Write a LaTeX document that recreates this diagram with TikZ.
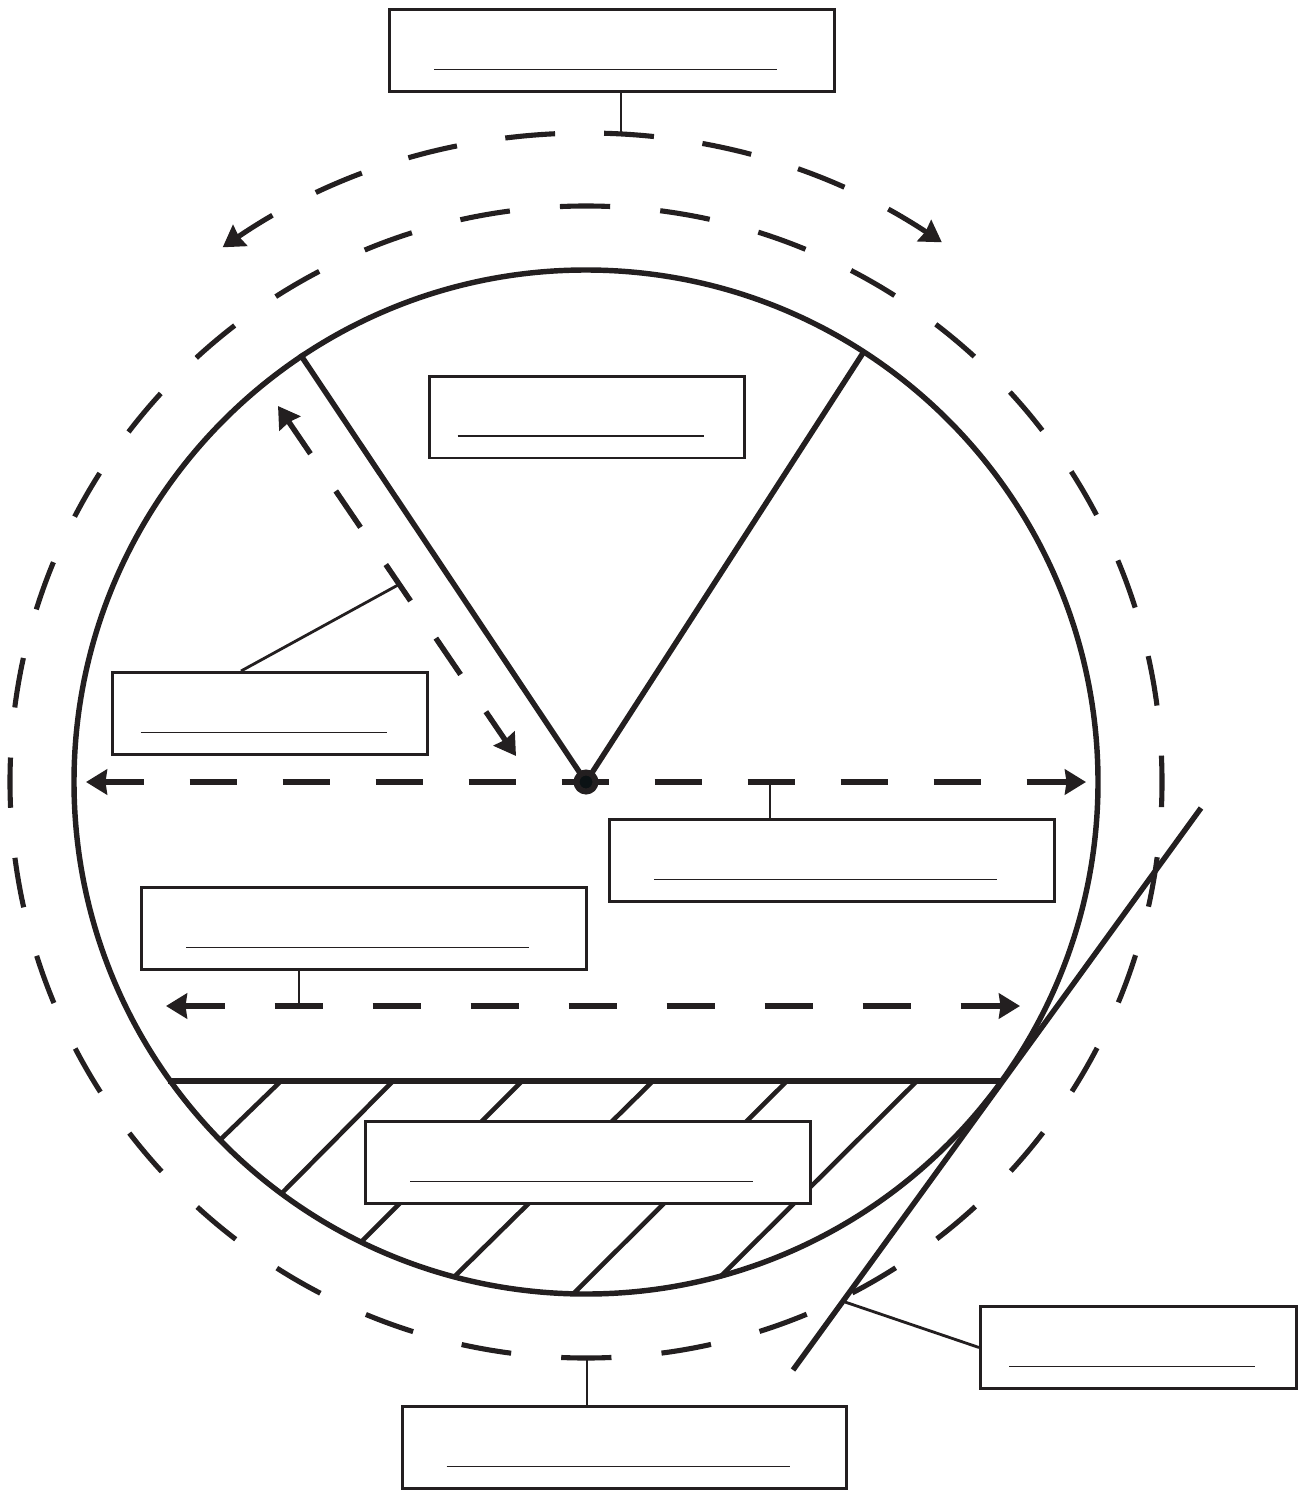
\documentclass[tikz,border=0pt]{standalone}
\usepackage{xcolor}
\usepackage{tikz}
\usetikzlibrary{arrows.meta, calc, positioning}
\definecolor{ink}{HTML}{231F20}
\definecolor{hubcore}{HTML}{0B1214}

\begin{document}
\begin{tikzpicture}[x=0.02cm, y=-0.02cm, every node/.style={inner sep=0pt}, >={Stealth[length=0.42cm, width=0.5cm, inset=0.03cm]},
  widebox/.style={draw=ink, fill=white, line width=1.7pt, minimum width=8.9cm, minimum height=1.64cm},
  shortbox/.style={draw=ink, fill=white, line width=1.7pt, minimum width=6.32cm, minimum height=1.64cm},
  rule/.style={draw=ink, line width=0.6pt},
  leader/.style={draw=ink, line width=1.6pt},
  heavy/.style={draw=ink, line width=3.1pt},
  ring/.style={draw=ink, line width=2.9pt, dash pattern=on 1.0053cm off 1.0053cm, dash phase=0.5027cm},
  dashline/.style={draw=ink, line width=3.1pt}]
  \useasboundingbox (0,0) rectangle (1306,1490);

  \coordinate (centre) at (586,782);
  \coordinate (chordL) at (168,1081);
  \coordinate (chordR) at (1003,1081);
  \coordinate (radiusL) at (300,354);
  \coordinate (radiusR) at (863,353);
  \coordinate (tangentA) at (793,1370);
  \coordinate (tangentB) at (1201,808);

  \draw [heavy] (centre) circle [radius=512];
  \draw [ring] (centre) circle [radius=576];

  \foreach \xa/\xb/\yb in {281/220/1140, 393/282/1193, 522/361/1242, 653/455/1276, 787/573/1294, 917/720/1277}
    \draw [draw=ink, line width=2.6pt] (\xa,1081) -- (\xb,\yb);
  \draw [heavy] (chordL) -- (chordR);
  \draw [heavy] (tangentA) -- (tangentB);
  \draw [heavy] (radiusL) -- (centre);
  \draw [heavy] (radiusR) -- (centre);

  \draw [dashline, <->, line width=2.9pt, dash pattern=on 1cm off 0.98cm, dash phase=0.18cm] ($(centre)+(-124.2:646.5)$) arc [start angle=-124.2, end angle=-56.6, radius=646.5];
  \coordinate (diagA) at (278,406);
  \coordinate (diagB) at (516,756);
  \draw [dashline, <->, dash pattern=on 0.88cm off 0.9cm, dash phase=0.09cm] (diagA) -- (diagB);
  \coordinate (midA) at (86,782);
  \coordinate (midB) at (1086,782);
  \draw [dashline, <->, dash pattern=on 0.94cm off 0.92cm, dash phase=0.15cm] (midA) -- (midB);
  \coordinate (lowA) at (166,1006);
  \coordinate (lowB) at (1020,1006);
  \draw [dashline, <->, dash pattern=on 0.97cm off 0.99cm, dash phase=0.15cm] (lowA) -- (lowB);

  \node (topbox) [widebox] at (612,50.5) {};
  \node (sectorbox) [shortbox] at (587,417) {};
  \node (leftbox) [shortbox] at (270,713.5) {};
  \node (rightbox) [widebox] at (832,860.5) {};
  \node (lowbox) [widebox] at (364,928.5) {};
  \node (hatchbox) [widebox] at (588,1162.5) {};
  \node (tangentbox) [shortbox] at (1138.5,1347.5) {};
  \node (bottombox) [widebox] at (624.5,1447.5) {};

  \foreach \boxname in {topbox, rightbox, lowbox, hatchbox, bottombox}
    \draw [rule] ($(\boxname.south west)+(46,-23.5)$) -- +(343,0);
  \foreach \boxname in {sectorbox, leftbox, tangentbox}
    \draw [rule] ($(\boxname.south west)+(30,-23.5)$) -- +(246,0);

  \coordinate (toptick) at (621,134);
  \coordinate (bottomtick) at (587,1359);
  \coordinate (righttick) at (770,782);
  \coordinate (lowtick) at (299,1006);
  \coordinate (diagtick) at (398,585);
  \coordinate (tangenttick) at (845,1302);
  \draw [leader] (toptick |- topbox.south) -- (toptick);
  \draw [leader] (bottomtick |- bottombox.north) -- (bottomtick);
  \draw [leader] (righttick |- rightbox.north) -- (righttick);
  \draw [leader] (lowtick |- lowbox.south) -- (lowtick);
  \draw [leader] ([xshift=-0.58cm]leftbox.north) -- (diagtick);
  \draw [leader] (tangentbox.west) -- (tangenttick);

  \node (hub) [circle, draw=ink, fill=hubcore, line width=3.4pt, minimum size=0.38cm] at (centre) {};
\end{tikzpicture}
\end{document}
